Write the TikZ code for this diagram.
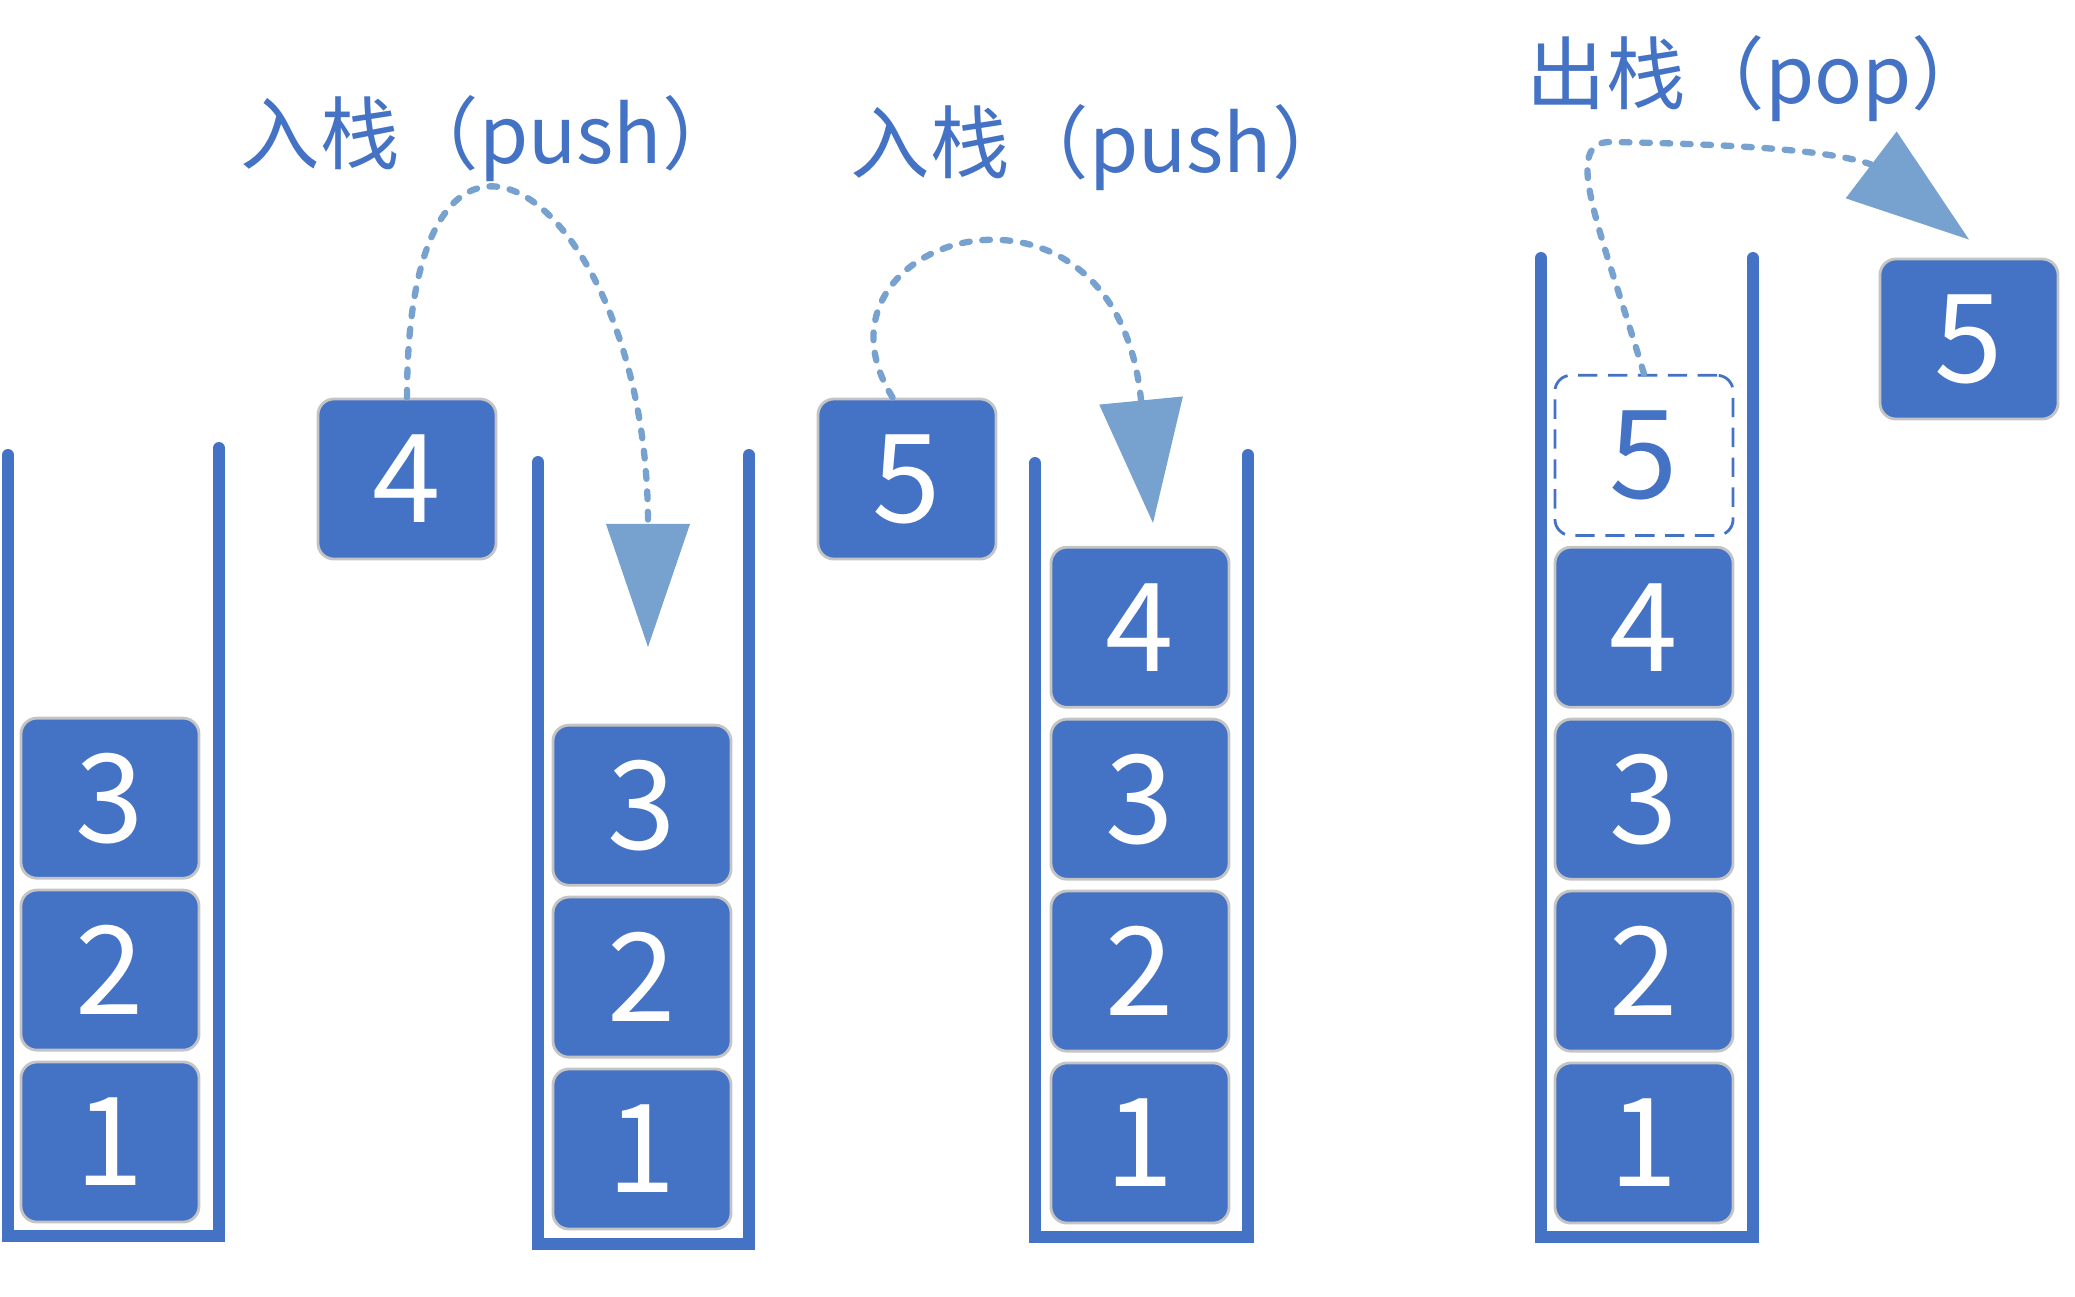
\documentclass[tikz,border=0pt]{standalone}
\usepackage{fontspec}
\setmainfont{Noto Sans CJK SC}
\usepackage{xcolor}
\usepackage{tikz}
\usetikzlibrary{positioning,arrows.meta}
\definecolor{brand}{HTML}{4472C4}
\definecolor{trail}{HTML}{77A2CF}
\definecolor{rim}{HTML}{C4C4C4}

\begin{document}
\begin{tikzpicture}[
    x=0.01cm, y=-0.01cm,
    node distance=0.09cm,
    cell/.style={draw=rim, line width=0.8pt, fill=brand, text=white, minimum width=1.78cm, minimum height=1.6cm, rounded corners=0.16cm, inner sep=0pt, font=\fontsize{35pt}{35pt}\selectfont},
    ghost/.style={cell, draw=brand, fill=none, text=brand, dash pattern=on 5.5pt off 3pt},
    wall/.style={draw=brand, line width=0.12cm, line cap=round},
    optext/.style={text=brand, anchor=base west, inner sep=0pt, font=\fontsize{22.6pt}{22.6pt}\selectfont},
    flow/.style={draw=trail, line width=1.8pt, line cap=round, dash pattern=on 2.2pt off 3.6pt, -{Triangle[length=1.23cm, width=0.84cm, line width=0pt]}}
]
    \useasboundingbox (0,0) rectangle (2075,1296);

    \draw[wall] (8,455) -- (8,1236) -- (219,1236) -- (219,448);
    \draw[wall] (538,462) -- (538,1244) -- (749,1244) -- (749,455);
    \draw[wall] (1035,463) -- (1035,1237) -- (1248,1237) -- (1248,455);
    \draw[wall] (1541,258) -- (1541,1237) -- (1753,1237) -- (1753,258);

    \node[cell] (a1) at (110,1142) {1};
    \node[cell, above=of a1] (a2) {2};
    \node[cell, above=of a2] (a3) {3};

    \node[cell] (in4) at (407,479) {4};

    \node[cell] (b1) at (642,1149) {1};
    \node[cell, above=of b1] (b2) {2};
    \node[cell, above=of b2] (b3) {3};

    \node[cell] (in5) at (907,479) {5};

    \node[cell] (c1) at (1140,1143) {1};
    \node[cell, above=of c1] (c2) {2};
    \node[cell, above=of c2] (c3) {3};
    \node[cell, above=of c3] (c4) {4};

    \node[cell] (d1) at (1644,1143) {1};
    \node[cell, above=of d1] (d2) {2};
    \node[cell, above=of d2] (d3) {3};
    \node[cell, above=of d3] (d4) {4};
    \node[ghost, above=of d4] (d5) {5};

    \node[cell] (out5) at (1969,339) {5};

    \node[optext] (push1) at (240,163) {入栈（push）};
    \node[optext] (push2) at (850,172) {入栈（push）};
    \node[optext] (pop1) at (1526,103) {出栈（pop）};

    \coordinate (baseA) at (648,524);
    \coordinate (tipA) at (648,647);
    \coordinate (baseB) at (1141,400);
    \coordinate (tipB) at (1153,523);
    \coordinate (bendC) at (1612,142);
    \coordinate (baseC) at (1870,164);
    \coordinate[above=0.18cm of out5] (tipC);

    \draw[flow] (in4.north) .. controls +(0,-374) and +(0,-327) .. (baseA) -- (tipA);
    \draw[flow] (in5.100) .. controls +(-100,-160) and +(-26,-259) .. (baseB) -- (tipB);
    \draw[flow] (d5.north) .. controls +(-44,-147) and +(-52,-2) .. (bendC) .. controls +(110,2) and +(-45,-15) .. (baseC) -- (tipC);
\end{tikzpicture}
\end{document}
